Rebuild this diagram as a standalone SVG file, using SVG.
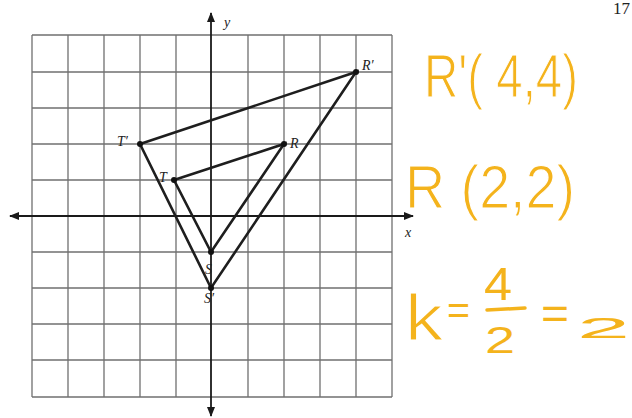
<svg xmlns="http://www.w3.org/2000/svg" width="632" height="418" viewBox="0 0 632 418">
<style>
.grid{stroke:#707070;stroke-width:1.3;fill:none}
.axis{stroke:#1a1a1a;stroke-width:1.8;fill:none}
.edge{stroke:#1e1e1e;stroke-width:2.6;fill:none;stroke-linecap:round}
.dot{fill:#111}
.lbl{font-family:"Liberation Serif",serif;font-style:italic;font-size:14px;fill:#222}
.hw{font-family:"Liberation Sans",Arial,sans-serif;fill:#f4b31c;stroke:#ffffff;stroke-width:1.2}
.hs{font-family:"Liberation Sans",Arial,sans-serif;fill:#f4b31c}
</style>
<defs>
<marker id="ah" viewBox="0 0 10 10" refX="9" refY="5" markerWidth="10" markerHeight="10" markerUnits="userSpaceOnUse" orient="auto-start-reverse">
<path d="M0,1 L10,5 L0,9 Z" fill="#1a1a1a"/>
</marker>
</defs>
<rect width="632" height="418" fill="#ffffff"/>
<g id="grid" class="grid">
<path d="M32,35V397M68,35V397M104,35V397M140,35V397M176,35V397M248,35V397M284,35V397M320,35V397M356,35V397M392,35V397"/>
<path d="M32,35H392M32,72H392M32,108H392M32,144H392M32,180H392M32,252H392M32,288H392M32,324H392M32,360H392M32,397H392"/>
</g>
<g id="axes">
<line class="axis" x1="10" y1="216" x2="413" y2="216" marker-start="url(#ah)" marker-end="url(#ah)"/>
<line class="axis" x1="211" y1="13" x2="211" y2="416" marker-start="url(#ah)" marker-end="url(#ah)"/>
<text class="lbl" x="224" y="27" font-size="15">y</text>
<text class="lbl" x="405" y="237" font-size="13">x</text>
</g>
<g id="connectors">
<path class="edge" d="M140,144 L356,72 L211,288 Z"/>
<path class="edge" d="M174,180 L284,144 L211,252 Z"/>
</g>
<g id="node-R-prime"><circle class="dot" cx="356" cy="72" r="3"/><text class="lbl" x="362" y="70">R′</text></g>
<g id="node-T-prime"><circle class="dot" cx="140" cy="144" r="3"/><text class="lbl" x="117" y="146">T′</text></g>
<g id="node-R"><circle class="dot" cx="284" cy="144" r="3"/><text class="lbl" x="290" y="148">R</text></g>
<g id="node-T"><circle class="dot" cx="174" cy="180" r="3"/><text class="lbl" x="159" y="182">T</text></g>
<g id="node-S"><circle class="dot" cx="211" cy="252" r="3"/><text class="lbl" x="205" y="274" font-size="13">S</text></g>
<g id="node-S-prime"><circle class="dot" cx="211" cy="288" r="3"/><text class="lbl" x="204" y="303" font-size="12">S′</text></g>
<text x="613" y="14" font-family="Liberation Serif,serif" font-size="17" fill="#222">17</text>
<g id="notes">
<text class="hw" x="424" y="97" font-size="62" textLength="154" lengthAdjust="spacingAndGlyphs">R'( 4,4)</text>
<text class="hw" x="405" y="208" font-size="62" textLength="170" lengthAdjust="spacingAndGlyphs">R (2,2)</text>
<text class="hw" x="405" y="340" font-size="64" textLength="38" lengthAdjust="spacingAndGlyphs">k</text>
<text class="hs" x="447" y="324" font-size="40" textLength="23" lengthAdjust="spacingAndGlyphs">=</text>
<text class="hs" x="484" y="300" font-size="46" textLength="28" lengthAdjust="spacingAndGlyphs">4</text>
<line x1="487" y1="310" x2="525" y2="308" stroke="#f4b31c" stroke-width="3.5" stroke-linecap="round"/>
<text class="hs" x="485" y="353" font-size="36" textLength="30" lengthAdjust="spacingAndGlyphs">2</text>
<text class="hs" x="541" y="329" font-size="44" textLength="28" lengthAdjust="spacingAndGlyphs">=</text>
<text class="hs" x="577" y="338" font-size="30" textLength="53" lengthAdjust="spacingAndGlyphs">2</text>
</g>
</svg>
